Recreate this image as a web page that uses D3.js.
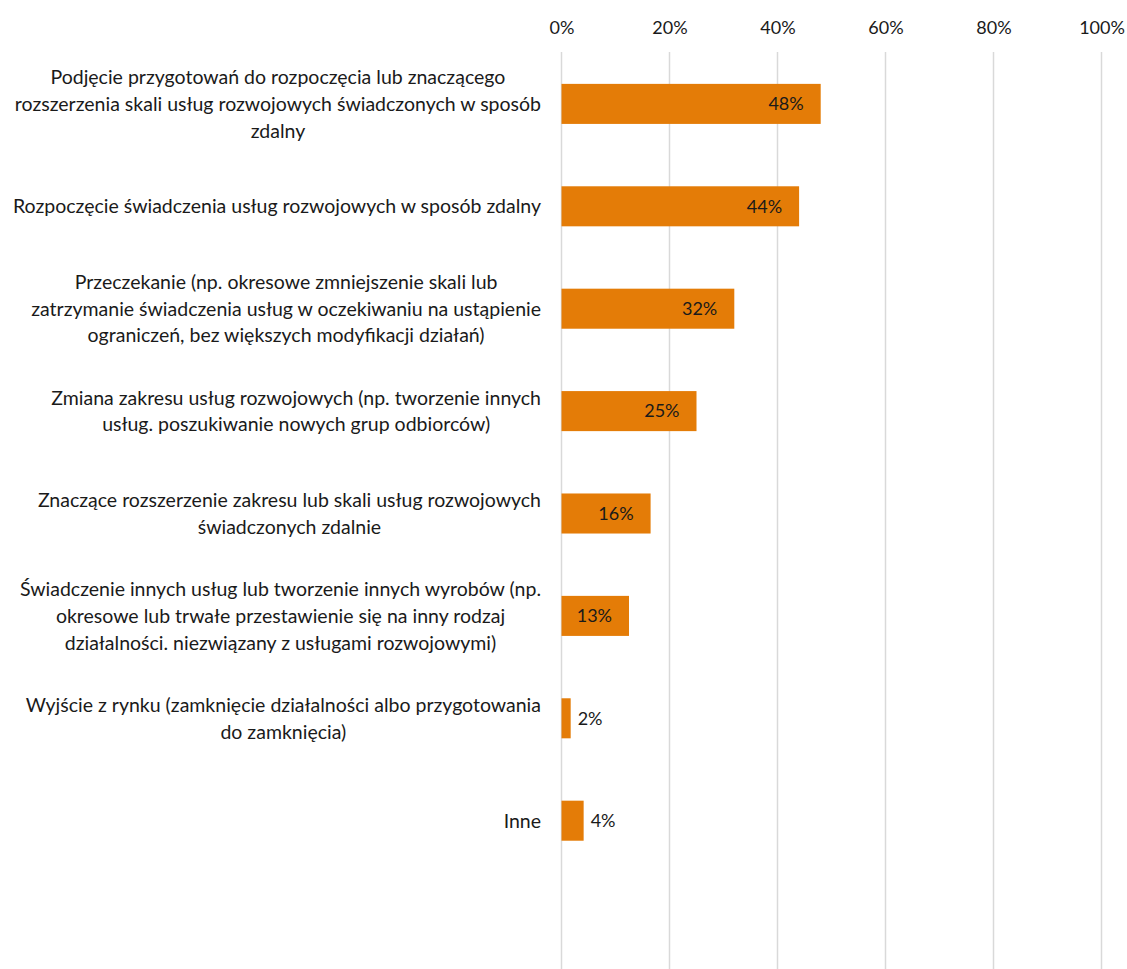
<!DOCTYPE html>
<html>
<head>
<meta charset="utf-8">
<script src="https://cdn.jsdelivr.net/npm/d3@7"></script>
<style>
  body { margin: 0; background: #fff; }
  text { font-family: Lato, "Open Sans", sans-serif; fill: #1a1a1a; }
</style>
</head>
<body>
<script>
var categories = [
	"Podjęcie przygotowań do rozpoczęcia lub znaczącego\nrozszerzenia skali usług rozwojowych świadczonych w sposób\nzdalny",
	"Rozpoczęcie świadczenia usług rozwojowych w sposób zdalny",
	"Przeczekanie (np. okresowe zmniejszenie skali lub\nzatrzymanie świadczenia usług w oczekiwaniu na ustąpienie\nograniczeń, bez większych modyfikacji działań)",
	"Zmiana zakresu usług rozwojowych (np. tworzenie innych\nusług. poszukiwanie nowych grup odbiorców)",
	"Znaczące rozszerzenie zakresu lub skali usług rozwojowych\nświadczonych zdalnie",
	"Świadczenie innych usług lub tworzenie innych wyrobów (np.\nokresowe lub trwałe przestawienie się na inny rodzaj\ndziałalności. niezwiązany z usługami rozwojowymi)",
	"Wyjście z rynku (zamknięcie działalności albo przygotowania\ndo zamknięcia)",
	"Inne"
];
var values = [0.48, 0.44, 0.32, 0.25, 0.165, 0.125, 0.017, 0.041];
var valueLabels = ["48%", "44%", "32%", "25%", "16%", "13%", "2%", "4%"];
var ticks = [0, 0.2, 0.4, 0.6, 0.8, 1];

var width = 1127,
	height = 969;

var svg = d3.select("body").append("svg")
	.attr("width", width)
	.attr("height", height);

var x = d3.scaleLinear().domain([0, 1]).range([561.5, 1101.5]);

var y = d3.scaleBand()
	.domain(d3.range(categories.length))
	.range([52.7, 52.7 + 102.4 * categories.length])
	.paddingInner(0.609)
	.paddingOuter(0.3045);

// gridlines
svg.append("g").selectAll("line")
	.data(ticks)
	.enter().append("line")
	.attr("x1", function(d){ return x(d); })
	.attr("x2", function(d){ return x(d); })
	.attr("y1", 52)
	.attr("y2", height)
	.attr("stroke", "#d9d9d9")
	.attr("stroke-width", 1.5);

// top axis labels
var xAxis = d3.axisTop(x).tickValues(ticks).tickSize(0).tickPadding(0)
	.tickFormat(d3.format(".0%"));
var ax = svg.append("g")
	.attr("transform", "translate(0,34)")
	.call(xAxis);
ax.select(".domain").remove();
ax.selectAll("text")
	.attr("dy", 0)
	.style("font-size", "18px")
	.style("font-family", "Lato, sans-serif")
	.attr("fill", "#1a1a1a");

// bars
svg.append("g").selectAll("rect")
	.data(values)
	.enter().append("rect")
	.attr("x", x(0))
	.attr("y", function(d, i){ return y(i); })
	.attr("width", function(d){ return x(d) - x(0); })
	.attr("height", y.bandwidth())
	.attr("fill", "#e47c07");

// value labels
svg.append("g").selectAll("text")
	.data(values)
	.enter().append("text")
	.attr("x", function(d){ return d < 0.1 ? x(d) + 7 : x(d) - 17; })
	.attr("y", function(d, i){ return y(i) + y.bandwidth() / 2; })
	.attr("dy", "0.35em")
	.attr("text-anchor", function(d){ return d < 0.1 ? "start" : "end"; })
	.style("font-size", "18px")
	.text(function(d, i){ return valueLabels[i]; });

// category labels, each block centred on its widest line, right edge at 541
var labelRight = 541, lineH = 26.8;
var lab = svg.append("g").selectAll("g")
	.data(categories)
	.enter().append("g");

lab.each(function(d, i){
	var g = d3.select(this);
	var lines = d.split("\n");
	var cy = y(i) + y.bandwidth() / 2;
	var t = g.selectAll("text").data(lines).enter().append("text")
		.attr("y", function(l, j){ return cy + (j - (lines.length - 1) / 2) * lineH; })
		.attr("dy", "0.35em")
		.attr("text-anchor", "middle")
		.style("font-size", "19.5px")
		.text(function(l){ return l; });
	var w = 0;
	t.each(function(){ w = Math.max(w, this.getComputedTextLength()); });
	t.attr("x", labelRight - w / 2);
});
</script>
</body>
</html>
